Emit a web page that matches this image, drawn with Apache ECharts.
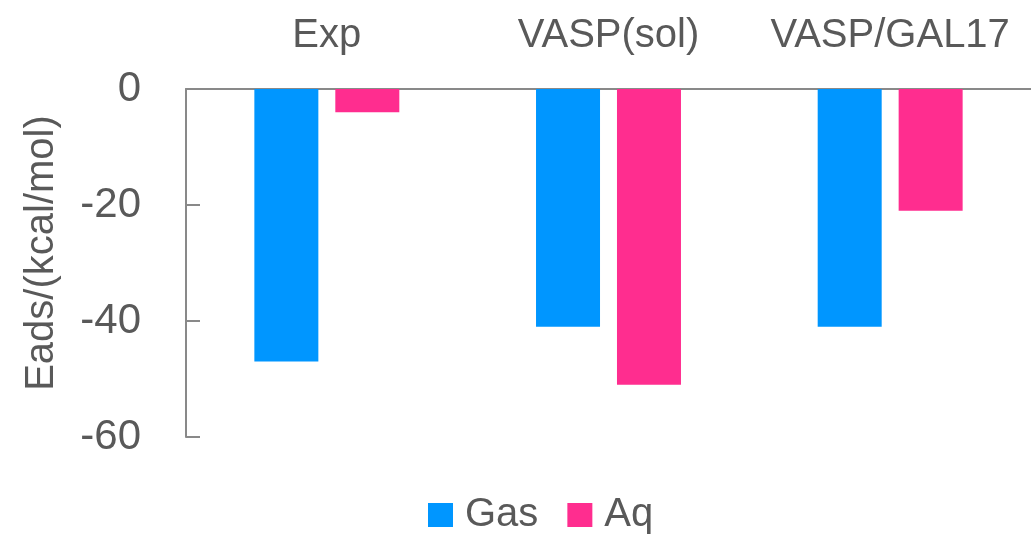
<!DOCTYPE html>
<html>
<head>
<meta charset="utf-8">
<script src="https://cdn.jsdelivr.net/npm/echarts@6/dist/echarts.min.js"></script>
<style>
  html, body { margin: 0; padding: 0; background: #fff; }
  #chartmain { width: 1031px; height: 536px; }
</style>
</head>
<body>
<div id="chartmain"></div>
<script>
// categories and values
var categories = ['Exp', 'VASP(sol)', 'VASP/GAL17'];
var gasData = [-47, -41, -41];
var aqData = [-4, -51, -21];
var yTicks = { min: -60, max: 0, interval: 20 };

var font = '"Liberation Sans", Arial, sans-serif';
var grey = '#595959';

var option = {
  animation: false,
  backgroundColor: '#fff',
  textStyle: { fontFamily: font },
  grid: { left: 186, right: -10, top: 89, bottom: 99, containLabel: false },
  legend: {
    top: 490,
    left: 423,
    itemWidth: 25,
    itemHeight: 24,
    itemGap: 29,
    icon: 'rect',
    textStyle: { fontSize: 40, color: grey, fontFamily: font, padding: [0, 0, 0, 7] },
    data: ['Gas', 'Aq']
  },
  xAxis: {
    type: 'category',
    position: 'top',
    data: categories,
    axisLine: { lineStyle: { color: '#898989', width: 2 } },
    axisTick: { show: false },
    axisLabel: { fontSize: 40, color: grey, margin: 33, interval: 0, fontFamily: font },
    splitLine: { show: false }
  },
  yAxis: {
    type: 'value',
    min: yTicks.min,
    max: yTicks.max,
    interval: yTicks.interval,
    name: 'Eads/(kcal/mol)',
    nameLocation: 'middle',
    nameRotate: 90,
    nameGap: 124,
    nameTextStyle: { fontSize: 40, color: grey, fontFamily: font, padding: [0, 0, 0, 20] },
    axisLine: { show: true, lineStyle: { color: '#898989', width: 2 } },
    axisTick: { show: true, inside: true, length: 14, lineStyle: { color: '#898989', width: 2 } },
    axisLabel: { fontSize: 42, color: grey, margin: 45, fontFamily: font },
    splitLine: { show: false }
  },
  series: [
    {
      name: 'Gas',
      type: 'bar',
      data: gasData,
      barWidth: 64,
      barGap: '26.5%',
      itemStyle: { color: '#0096FF' }
    },
    {
      name: 'Aq',
      type: 'bar',
      data: aqData,
      barWidth: 64,
      itemStyle: { color: '#FF2D8F' }
    }
  ]
};

var chartmain = echarts.init(document.getElementById('chartmain'));
chartmain.setOption(option);
</script>
</body>
</html>
